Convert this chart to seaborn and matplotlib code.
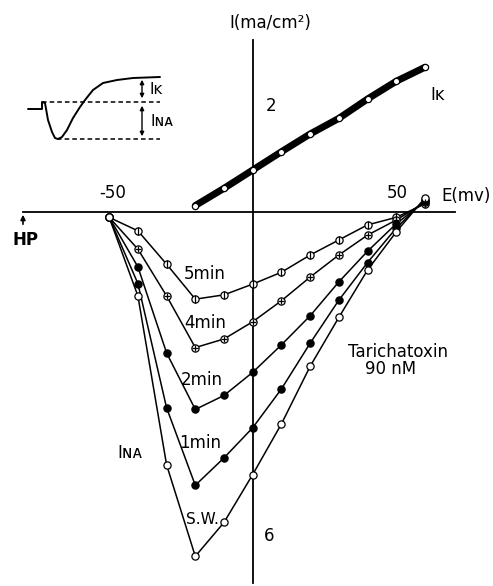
import numpy as np
import pandas as pd
import matplotlib
matplotlib.use("Agg")
import matplotlib.pyplot as plt
import seaborn as sns

# ---------------- data ----------------
E_na = [-50, -40, -30, -20, -10, 0, 10, 20, 30, 40, 50, 60]
I_sw   = [-0.1, -1.56, -4.70, -6.40, -5.77, -4.88, -3.94, -2.87, -1.96, -1.08, -0.37, 0.26]
I_1min = [-0.1, -1.33, -3.64, -5.08, -4.57, -4.01, -3.29, -2.44, -1.64, -0.94, -0.30, 0.23]
I_2min = [-0.1, -1.02, -2.62, -3.67, -3.41, -2.98, -2.47, -1.93, -1.30, -0.73, -0.22, 0.20]
I_4min = [-0.1, -0.69, -1.56, -2.52, -2.36, -2.04, -1.65, -1.21, -0.80, -0.43, -0.15, 0.18]
I_5min = [-0.1, -0.35, -0.97, -1.62, -1.54, -1.34, -1.12, -0.80, -0.52, -0.24, -0.10, 0.15]

E_k = [-20, -10, 0, 10, 20, 30, 40, 50, 60]
I_k = [0.12, 0.44, 0.78, 1.12, 1.45, 1.74, 2.10, 2.43, 2.69]

curve_names = ["5min", "4min", "2min", "1min", "S.W."]
x_ticks = list(range(-80, 71, 10))
y_ticks = [2, -4, -6]

# inset schematic trace (pixel units of the figure)
inset_x = [28, 42, 42, 45, 48, 52, 55, 58, 62, 67, 73, 80, 85, 93, 103, 117, 133, 160]
inset_y = [109, 109, 102, 103, 120, 132, 138, 139, 137, 130, 118, 107, 100, 90, 83, 80, 78, 77]

df = pd.DataFrame({
    "E": E_na * 5,
    "I": I_5min + I_4min + I_2min + I_1min + I_sw,
    "curve": sum([[n] * len(E_na) for n in curve_names], []),
})
dk = pd.DataFrame({"E": E_k, "I": I_k})

# ---------------- figure ----------------
sns.set_theme(style="white")
plt.rcParams["font.family"] = ["DejaVu Sans"]
W, H = 493, 586
fig = plt.figure(figsize=(W / 100, H / 100), dpi=100)
ax = fig.add_axes([0, 0, 1, 1])
ax.set_facecolor("white")

# IK band
sns.lineplot(data=dk, x="E", y="I", ax=ax, color="black", lw=5, legend=False,
             solid_capstyle="round")
ax.plot(dk["E"], dk["I"], "o", ms=4.5, mfc="white", mec="black", mew=0.9, zorder=5)

# INa curves
sns.lineplot(data=df, x="E", y="I", units="curve", estimator=None, ax=ax,
             color="black", lw=1.1, legend=False, sort=False)
ms = 5.2
for name in curve_names:
    sub = df[df["curve"] == name]
    if name in ("1min", "2min"):
        ax.plot(sub["E"], sub["I"], "o", ms=ms, mfc="black", mec="black", mew=0.9, zorder=5)
    else:
        ax.plot(sub["E"], sub["I"], "o", ms=ms, mfc="white", mec="black", mew=0.9, zorder=5)
        if name == "5min":
            ax.plot(sub["E"].iloc[1:], sub["I"].iloc[1:], "|", ms=ms, mec="black", mew=0.9, zorder=6)
        if name == "4min":
            ax.plot(sub["E"].iloc[1:], sub["I"].iloc[1:], "+", ms=ms - 1.5, mec="black", mew=0.9, zorder=6)

ax.set_xlim(-252.7 / 2.87, (W - 252.7) / 2.87)
ax.set_ylim((212 - H) / 53.8, 212 / 53.8)
ax.set_xlabel("")
ax.set_ylabel("")

# axes crossing at origin
for s in ["top", "right"]:
    ax.spines[s].set_visible(False)
ax.spines["left"].set_position(("data", 0))
ax.spines["bottom"].set_position(("data", 0))
ax.spines["left"].set_bounds(-6.9, 3.2)
ax.spines["bottom"].set_bounds(-80, 70.5)
for s in ["left", "bottom"]:
    ax.spines[s].set_color("black")
    ax.spines[s].set_linewidth(1.3)
ax.set_xticks(x_ticks)
ax.set_xticklabels([""] * len(x_ticks))
ax.set_yticks(y_ticks)
ax.set_yticklabels([""] * len(y_ticks))
ax.tick_params(axis="x", direction="in", length=3, width=1, colors="black")
ax.tick_params(axis="y", direction="in", length=5, width=1, colors="black")

# ---------------- annotations in pixel coordinates ----------------
ov = fig.add_axes([0, 0, 1, 1], facecolor="none")
ov.set_xlim(0, W)
ov.set_ylim(H, 0)
ov.axis("off")

fs = 12
txt = dict(ha="center", va="center", color="black")
ov.text(113, 193, "-50", fontsize=fs, **txt)
ov.text(397, 192.5, "50", fontsize=fs, **txt)
ov.text(466, 196, "E(mv)", fontsize=fs, **txt)
ov.text(270, 23, "I(ma/cm²)", fontsize=fs, **txt)
ov.text(271, 106, "2", fontsize=fs, **txt)
ov.text(269, 536, "6", fontsize=fs, **txt)
ov.text(25, 240, "HP", fontsize=12, fontweight="bold", **txt)
ov.annotate("", xy=(23, 212), xytext=(23, 227),
            arrowprops=dict(arrowstyle="-|>", color="black", lw=1.2, mutation_scale=7))

ov.text(205, 274, "5min", fontsize=fs, **txt)
ov.text(205, 323, "4min", fontsize=fs, **txt)
ov.text(202, 380, "2min", fontsize=fs, **txt)
ov.text(200, 443, "1min", fontsize=fs, **txt)
ov.text(202, 520, "S.W.", fontsize=11, **txt)
ov.text(130, 453, "Iɴᴀ", fontsize=fs, **txt)
ov.text(438, 95, "Iᴋ", fontsize=fs, **txt)
ov.text(398, 352, "Tarichatoxin", fontsize=fs, **txt)
ov.text(391, 369, "90 nM", fontsize=fs, **txt)

# inset schematic
ov.plot(inset_x, inset_y, color="black", lw=1.4)
ov.plot([42, 160], [102, 102], color="black", lw=1.1, ls=(0, (3, 2)))
ov.plot([57, 160], [139, 139], color="black", lw=1.1, ls=(0, (3, 2)))
ov.annotate("", xy=(142, 77), xytext=(142, 101),
            arrowprops=dict(arrowstyle="<|-|>", color="black", lw=1.0, mutation_scale=6))
ov.annotate("", xy=(142, 103), xytext=(142, 139),
            arrowprops=dict(arrowstyle="<|-|>", color="black", lw=1.0, mutation_scale=6))
ov.text(156, 90, "Iᴋ", fontsize=11, **txt)
ov.text(162, 122, "Iɴᴀ", fontsize=11, **txt)

fig.savefig("out.png", dpi=100, facecolor="white")
